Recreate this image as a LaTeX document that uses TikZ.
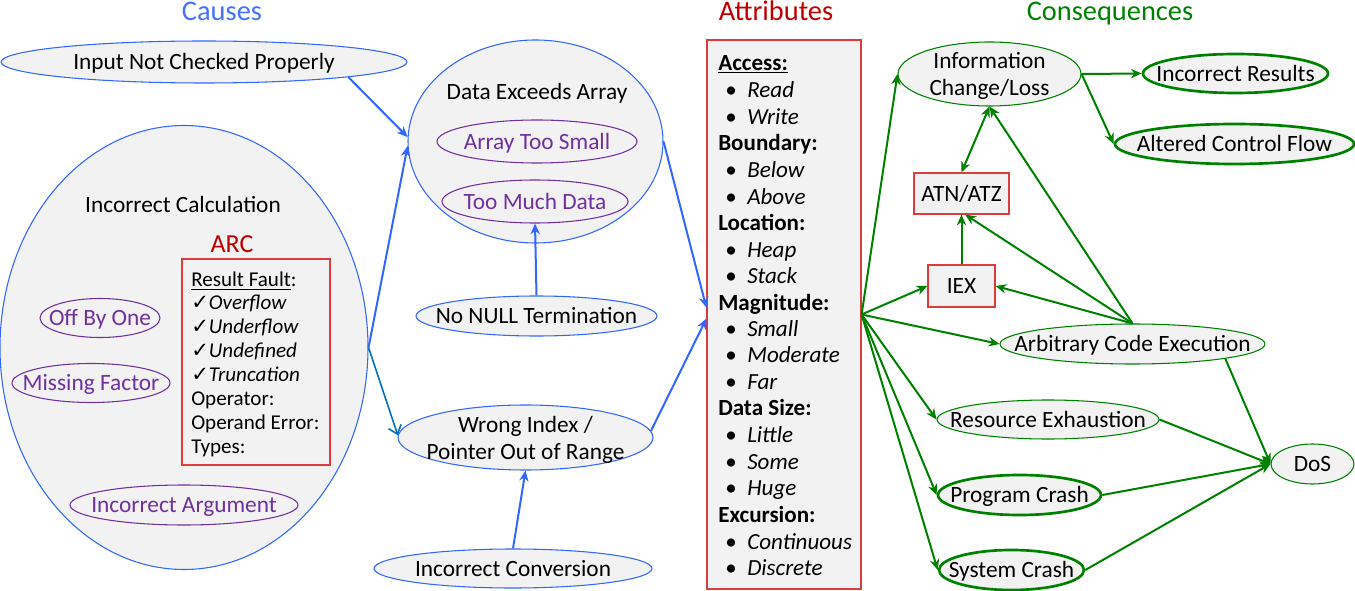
\documentclass[tikz,border=0pt]{standalone}
\usepackage{fontspec}
\setmainfont{Carlito}
\newfontfamily\symfont{DejaVu Sans}
\usetikzlibrary{shapes.geometric,arrows.meta}

\definecolor{cblue}{RGB}{51,102,255}
\definecolor{ctitle}{RGB}{68,114,255}
\definecolor{cdark}{RGB}{0,112,192}
\definecolor{cgreen}{RGB}{0,128,0}
\definecolor{cred}{RGB}{192,0,0}
\definecolor{boxred}{RGB}{220,60,60}
\definecolor{cpurple}{RGB}{112,48,160}
\definecolor{cfill}{RGB}{242,242,242}

% list helpers
\newcommand\hd[1]{\textbf{#1}}
\newcommand\itm[1]{\hspace*{5.25pt}\makebox[16.5pt][l]{•}\textit{#1}}
\newcommand\ck{{\symfont\bfseries ✓}}

\begin{document}
\begin{tikzpicture}[x=0.75pt,y=-0.75pt,
  ell/.style 2 args={ellipse, inner sep=0pt, minimum width=#1*1.5pt, minimum height=#2*1.5pt},
  rbox/.style 2 args={rectangle, inner sep=0pt, minimum width=#1*0.75pt, minimum height=#2*0.75pt, draw=boxred, line width=0.9pt, fill=cfill},
  bell/.style={draw=cblue, line width=0.8pt, fill=cfill},
  pell/.style={draw=cpurple, line width=0.8pt},
  gell/.style={draw=cgreen, line width=0.8pt, fill=cfill},
  gthick/.style={draw=cgreen, line width=2pt, fill=cfill},
  txt/.style={inner sep=0pt, font=\fontsize{17.5pt}{20pt}\selectfont, text height=11.3pt, text depth=0pt},
  mtxt/.style={inner sep=0pt, align=center, font=\fontsize{17.5pt}{19.8pt}\selectfont},
  lst/.style={inner sep=0pt, anchor=west, font=\fontsize{17.3pt}{20pt}\selectfont, text height=11.2pt, text depth=0pt},
  arc/.style={inner sep=0pt, anchor=west, font=\fontsize{15.8pt}{18pt}\selectfont, text height=10.2pt, text depth=0pt},
  title/.style={inner sep=0pt, font=\fontsize{21.3pt}{24pt}\selectfont, text height=13.7pt, text depth=0pt},
  barrow/.style={draw=cblue, line width=1.5pt, -{Stealth[length=8pt,width=7pt,inset=2.5pt]}},
  darrow/.style={draw=cdark, line width=1.2pt, -{Straight Barb[length=6pt,width=10pt]}},
  garrow/.style={draw=cgreen, line width=1.5pt, -{Stealth[length=8pt,width=7pt,inset=2.5pt]}},
  gdouble/.style={draw=cgreen, line width=1.5pt, {Stealth[length=8pt,width=7pt,inset=2.5pt]}-{Stealth[length=8pt,width=7pt,inset=2.5pt]}}
]
\useasboundingbox (0,0) rectangle (1355,591);

% ---- column titles
\node[title, text=ctitle] (tcause) at (222,11) {Causes};
\node[title, text=cred] (tattr) at (776,11) {Attributes};
\node[title, text=cgreen] (tcons) at (1110,11) {Consequences};

% ---- causes
\node[ell={203}{21}, bell] (inp) at (204,62) {};
\node[txt] (inp-t) at (inp) {Input Not Checked Properly};

\node[ell={184}{222}, bell] (calc) at (184,347.5) {};
\node[txt] (calc-t) at (183,205) {Incorrect Calculation};
\node[txt, text=cred, font=\fontsize{19.5pt}{22pt}\selectfont, text height=12.5pt] (arc-t) at (232,244) {ARC};
\node[rbox={148}{206}] (arcbox) at (256,362) {};
\foreach \y/\t [count=\i] in {280/{\underline{Result Fault}:},
    303/{\ck\textit{Overflow}}, 327/{\ck\textit{Underflow}},
    351/{\ck\textit{Undefined}}, 375/{\ck\textit{Truncation}},
    399/{Operator:}, 423/{Operand Error:}, 447/{Types:}}
  \node[arc] (arcl\i) at (191,\y) {\t};

\node[ell={60}{19.5}, pell] (obo) at (100,318) {};
\node[txt, text=cpurple] (obo-t) at (obo) {Off By One};
\node[ell={79}{19.5}, pell] (mf) at (91,383) {};
\node[txt, text=cpurple] (mf-t) at (mf) {Missing Factor};
\node[ell={114}{20}, pell] (ia) at (184,505) {};
\node[txt, text=cpurple] (ia-t) at (ia) {Incorrect Argument};

\node[ell={127.5}{101.5}, bell] (dea) at (535.5,141.5) {};
\node[txt] (dea-t) at (537,92) {Data Exceeds Array};
\node[ell={100}{21.5}, pell] (ats) at (537,141.5) {};
\node[txt, text=cpurple] (ats-t) at (ats) {Array Too Small};
\node[ell={93}{21.5}, pell] (tmd) at (535,201.5) {};
\node[txt, text=cpurple] (tmd-t) at (tmd) {Too Much Data};

\node[ell={120.5}{20}, bell] (nnt) at (536.5,316) {};
\node[txt] (nnt-t) at (nnt) {No NULL Termination};

\node[ell={127.5}{32.5}, bell] (wi) at (525.5,437.5) {};
\node[mtxt] (wi-t) at (525.5,440) {Wrong Index /\\Pointer Out of Range};

\node[ell={139}{19.5}, bell] (icv) at (513,568.5) {};
\node[txt] (icv-t) at (icv) {Incorrect Conversion};

% ---- attributes
\node[rbox={154}{549}] (attr) at (784,314.5) {};
\foreach \y/\t [count=\i] in {63/{\hd{\underline{Access:}}}, 90/{\itm{Read}}, 117/{\itm{Write}},
    143/{\hd{Boundary:}}, 170/{\itm{Below}}, 197/{\itm{Above}},
    223/{\hd{Location:}}, 250/{\itm{Heap}}, 276/{\itm{Stack}},
    303/{\hd{Magnitude:}}, 329/{\itm{Small}}, 355/{\itm{Moderate}}, 382/{\itm{Far}},
    408/{\hd{Data Size:}}, 435/{\itm{Little}}, 462/{\itm{Some}}, 488/{\itm{Huge}},
    515/{\hd{Excursion:}}, 542/{\itm{Continuous}}, 568/{\itm{Discrete}}}
  \node[lst] (attrl\i) at (718,\y) {\t};

% ---- consequences
\node[ell={91.5}{32}, gell] (info) at (989.5,74) {};
\node[mtxt] (info-t) at (989.5,76) {Information\\Change/Loss};
\node[ell={92.5}{19.5}, gthick] (ir) at (1235.5,73.5) {};
\node[txt] (ir-t) at (ir) {Incorrect Results};
\node[ell={119.5}{20}, gthick] (acf) at (1234.5,144) {};
\node[txt] (acf-t) at (acf) {Altered Control Flow};
\node[rbox={95}{41}] (atn) at (961.5,193.5) {};
\node[txt] (atn-t) at (atn) {ATN/ATZ};
\node[rbox={67}{42}] (iex) at (961.5,286) {};
\node[txt] (iex-t) at (iex) {IEX};
\node[ell={132.5}{20}, gell] (ace) at (1132.5,344) {};
\node[txt] (ace-t) at (ace) {Arbitrary Code Execution};
\node[ell={111}{19.5}, gell] (re) at (1048,419.5) {};
\node[txt] (re-t) at (re) {Resource Exhaustion};
\node[ell={81.5}{20}, gthick] (pc) at (1019.5,495) {};
\node[txt] (pc-t) at (pc) {Program Crash};
\node[ell={72.5}{20}, gthick] (sc) at (1011.5,570) {};
\node[txt] (sc-t) at (sc) {System Crash};
\node[ell={41.5}{20}, gell] (dos) at (1312.5,464) {};
\node[txt] (dos-t) at (dos) {DoS};

% ---- cause connectors
\draw[barrow] (inp.-6) -- (dea.178);
\draw[barrow] (calc.east) -- (dea.182);
\draw[darrow] (calc.east) -- (wi.179);
\draw[barrow] (nnt.north) -- (tmd.south);
\draw[barrow] (icv.north) -- (wi.south);
\draw[barrow] (dea.east) -- (attr.175);
\draw[barrow] (wi.3) -- (attr.183);

% ---- consequence connectors
\draw[garrow] (attr.east) -- (info.west);
\draw[garrow] (attr.east) -- (iex.west);
\draw[garrow] (attr.east) -- (ace.west);
\draw[garrow] (attr.east) -- (re.west);
\draw[garrow] (attr.east) -- (pc.west);
\draw[garrow] (attr.east) -- (sc.west);
\draw[garrow] (info.east) -- (ir.west);
\draw[garrow] (info.east) -- (acf.west);
\draw[gdouble] (atn.north) -- (info.south);
\draw[garrow] (iex.north) -- (atn.south);
\draw[garrow] (ace.north) -- (info.south);
\draw[garrow] (ace.north) -- (atn.-80);
\draw[garrow] (ace.north) -- (iex.east);
\draw[garrow] (ace.-9) -- (dos.west);
\draw[garrow] (re.east) -- (dos.west);
\draw[garrow] (pc.east) -- (dos.west);
\draw[garrow] (sc.east) -- (dos.west);
\end{tikzpicture}
\end{document}
